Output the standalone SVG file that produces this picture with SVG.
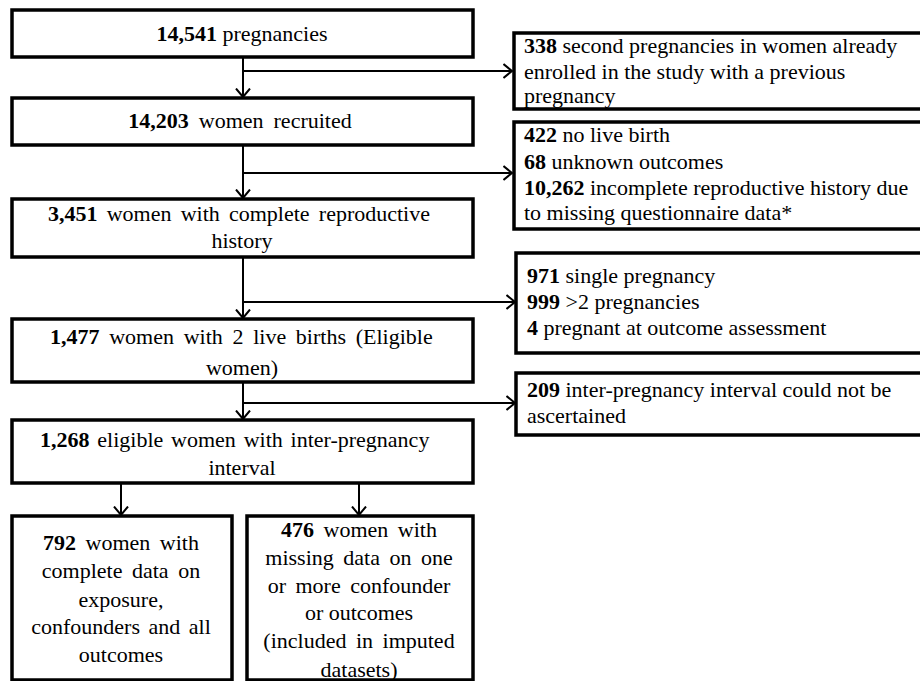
<svg xmlns="http://www.w3.org/2000/svg" width="920" height="681" viewBox="0 0 920 681">
<style>
.box{fill:#fff;stroke:#000;stroke-width:3.5}
.ln{fill:none;stroke:#000;stroke-width:2}
</style>
<defs>
<marker id="arr" viewBox="0 0 10 16" refX="9.5" refY="8" markerWidth="10" markerHeight="16" orient="auto" markerUnits="userSpaceOnUse">
<path d="M1,1 L9.5,8 L1,15" fill="none" stroke="#000" stroke-width="2"/>
</marker>
</defs>
<rect width="920" height="681" fill="#fff"/>
<g id="connectors">
<path class="ln" d="M243,58 V97" marker-end="url(#arr)"/>
<path class="ln" d="M243,71 H512" marker-end="url(#arr)"/>
<path class="ln" d="M243,146 V198" marker-end="url(#arr)"/>
<path class="ln" d="M243,173 H512" marker-end="url(#arr)"/>
<path class="ln" d="M243,258 V318" marker-end="url(#arr)"/>
<path class="ln" d="M243,302 H515" marker-end="url(#arr)"/>
<path class="ln" d="M243,383 V419" marker-end="url(#arr)"/>
<path class="ln" d="M243,403 H515" marker-end="url(#arr)"/>
<path class="ln" d="M121,484 V515" marker-end="url(#arr)"/>
<path class="ln" d="M359,484 V515" marker-end="url(#arr)"/>
</g>
<g id="n1">
<rect class="box" x="12" y="10" width="461" height="47"/>
<text font-family="Liberation Serif, serif" font-size="22" text-anchor="middle" x="242" y="41"><tspan font-weight="bold">14,541</tspan> pregnancies</text>
</g>
<g id="n2">
<rect class="box" x="12" y="98" width="461" height="47"/>
<text font-family="Liberation Serif, serif" font-size="22" text-anchor="middle" x="240" y="128" word-spacing="4.5"><tspan font-weight="bold">14,203</tspan> women recruited</text>
</g>
<g id="n3">
<rect class="box" x="12" y="199" width="461" height="58"/>
<text font-family="Liberation Serif, serif" font-size="22" x="48" y="221" word-spacing="3.7"><tspan font-weight="bold">3,451</tspan> women with complete reproductive</text>
<text font-family="Liberation Serif, serif" font-size="22" text-anchor="middle" x="242" y="248">history</text>
</g>
<g id="n4">
<rect class="box" x="12" y="319" width="461" height="63"/>
<text font-family="Liberation Serif, serif" font-size="22" x="50" y="344" word-spacing="4.2"><tspan font-weight="bold">1,477</tspan> women with 2 live births (Eligible</text>
<text font-family="Liberation Serif, serif" font-size="22" text-anchor="middle" x="242" y="375">women)</text>
</g>
<g id="n5">
<rect class="box" x="12" y="420" width="461" height="63"/>
<text font-family="Liberation Serif, serif" font-size="22" x="40" y="447" word-spacing="2.3"><tspan font-weight="bold">1,268</tspan> eligible women with inter-pregnancy</text>
<text font-family="Liberation Serif, serif" font-size="22" text-anchor="middle" x="242" y="475">interval</text>
</g>
<g id="n6">
<rect class="box" x="12" y="516" width="220" height="164"/>
<text font-family="Liberation Serif, serif" font-size="22" text-anchor="middle" x="121" y="550" word-spacing="4"><tspan font-weight="bold">792</tspan> women with</text>
<text font-family="Liberation Serif, serif" font-size="22" text-anchor="middle" x="121" y="578" word-spacing="4">complete data on</text>
<text font-family="Liberation Serif, serif" font-size="22" text-anchor="middle" x="121" y="607">exposure,</text>
<text font-family="Liberation Serif, serif" font-size="22" text-anchor="middle" x="121" y="634" word-spacing="3">confounders and all</text>
<text font-family="Liberation Serif, serif" font-size="22" text-anchor="middle" x="121" y="662">outcomes</text>
</g>
<g id="n7">
<rect class="box" x="247" y="516" width="226" height="164"/>
<text font-family="Liberation Serif, serif" font-size="22" text-anchor="middle" x="359" y="537" word-spacing="4"><tspan font-weight="bold">476</tspan> women with</text>
<text font-family="Liberation Serif, serif" font-size="22" text-anchor="middle" x="359" y="565" word-spacing="4">missing data on one</text>
<text font-family="Liberation Serif, serif" font-size="22" text-anchor="middle" x="359" y="593" word-spacing="4">or more confounder</text>
<text font-family="Liberation Serif, serif" font-size="22" text-anchor="middle" x="359" y="620">or outcomes</text>
<text font-family="Liberation Serif, serif" font-size="22" text-anchor="middle" x="359" y="648" word-spacing="4">(included in imputed</text>
<text font-family="Liberation Serif, serif" font-size="22" text-anchor="middle" x="359" y="677">datasets)</text>
</g>
<g id="r1">
<rect class="box" x="514" y="33" width="420" height="76"/>
<text font-family="Liberation Serif, serif" font-size="22" x="524" y="53"><tspan font-weight="bold">338</tspan> second pregnancies in women already</text>
<text font-family="Liberation Serif, serif" font-size="22" x="524" y="79">enrolled in the study with a previous</text>
<text font-family="Liberation Serif, serif" font-size="22" x="524" y="103">pregnancy</text>
</g>
<g id="r2">
<rect class="box" x="514" y="122" width="420" height="107"/>
<text font-family="Liberation Serif, serif" font-size="22" x="524" y="142"><tspan font-weight="bold">422</tspan> no live birth</text>
<text font-family="Liberation Serif, serif" font-size="22" x="524" y="169"><tspan font-weight="bold">68</tspan> unknown outcomes</text>
<text font-family="Liberation Serif, serif" font-size="22" x="524" y="195"><tspan font-weight="bold">10,262</tspan> incomplete reproductive history due</text>
<text font-family="Liberation Serif, serif" font-size="22" x="524" y="220">to missing questionnaire data*</text>
</g>
<g id="r3">
<rect class="box" x="516" y="253" width="420" height="100"/>
<text font-family="Liberation Serif, serif" font-size="22" x="527" y="283"><tspan font-weight="bold">971</tspan> single pregnancy</text>
<text font-family="Liberation Serif, serif" font-size="22" x="527" y="309"><tspan font-weight="bold">999</tspan> &gt;2 pregnancies</text>
<text font-family="Liberation Serif, serif" font-size="22" x="527" y="335"><tspan font-weight="bold">4</tspan> pregnant at outcome assessment</text>
</g>
<g id="r4">
<rect class="box" x="516" y="373" width="420" height="62"/>
<text font-family="Liberation Serif, serif" font-size="22" x="527" y="397"><tspan font-weight="bold">209</tspan> inter-pregnancy interval could not be</text>
<text font-family="Liberation Serif, serif" font-size="22" x="527" y="423">ascertained</text>
</g>
</svg>
